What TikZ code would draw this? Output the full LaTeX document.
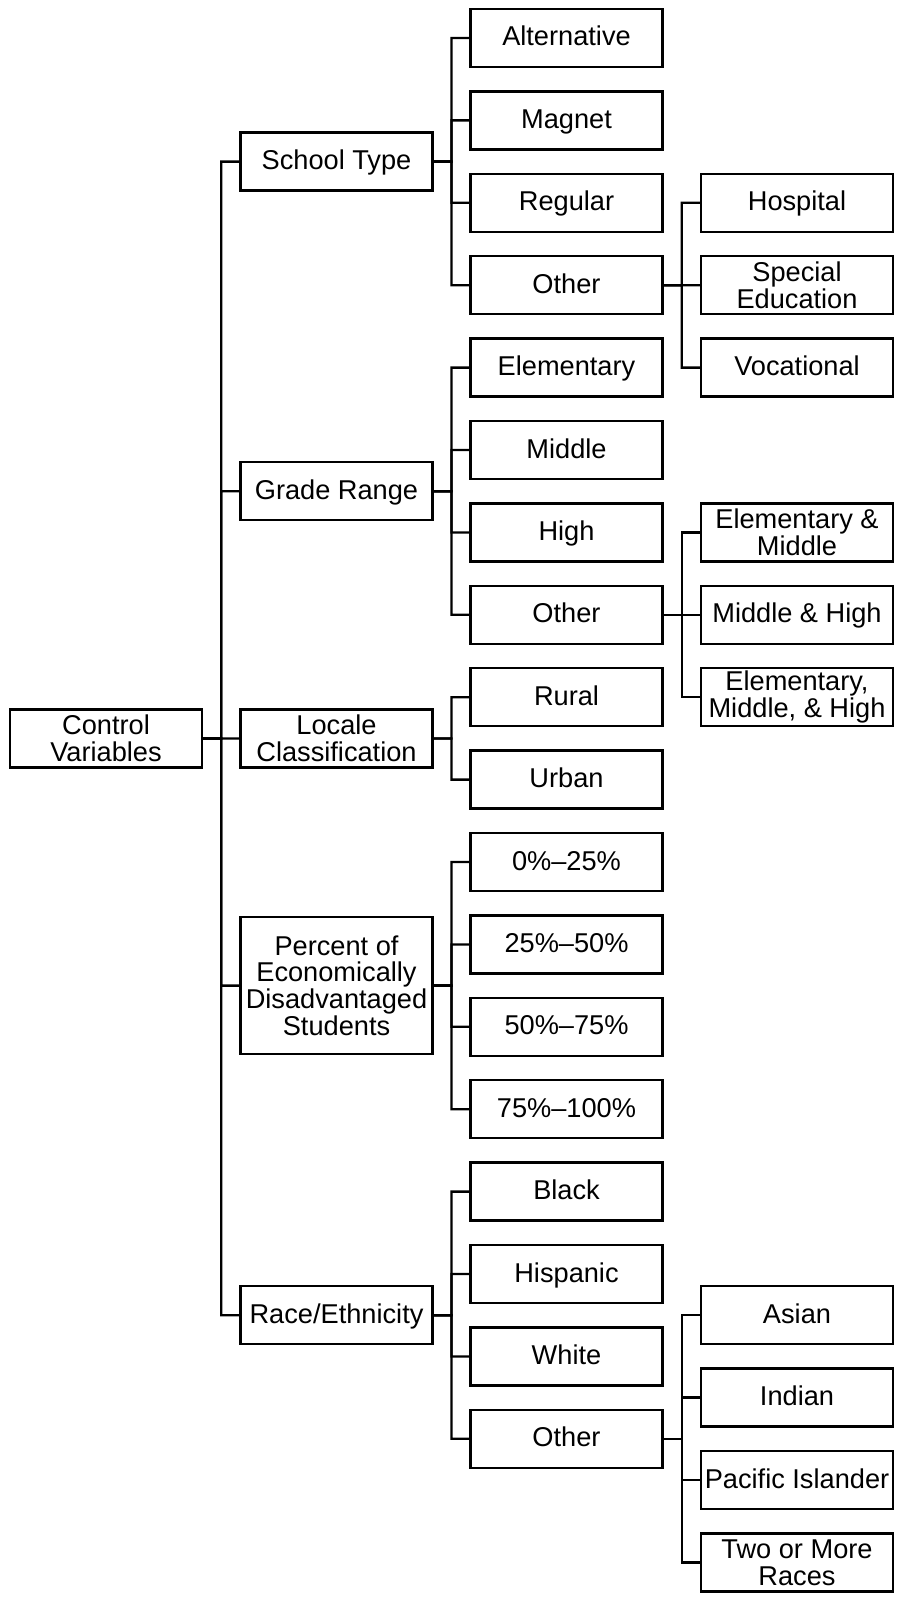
\documentclass[tikz,border=0pt]{standalone}
\usepackage{fontspec}
\setmainfont{Liberation Sans}
\usetikzlibrary{calc}
\begin{document}
\begin{tikzpicture}[x=0.5pt,y=-0.5pt,
  box/.style={draw=black,line width=1.15pt,minimum width=96pt,minimum height=29pt,inner sep=0pt,
    align=center,font=\fontsize{13.6}{13.4}\selectfont},
  one/.style={box,text height=9.74pt,text depth=1.74pt},
  tall/.style={box,minimum height=68.5pt},
  link/.style={draw=black,line width=1.15pt}]
\useasboundingbox (0,0) rectangle (899,1600);
% root
\node[box] (root) at (106,738.4) {Control\\Variables};
% level 1
\node[one] (st) at (336.5,161.6) {School Type};
\node[one] (gr) at (336.5,491.2) {Grade Range};
\node[box] (lc) at (336.5,738.4) {Locale\\Classification};
\node[tall] (pe) at (336.5,985.6) {Percent of\\Economically\\Disadvantaged\\Students};
\node[one] (re) at (336.5,1315.2) {Race/Ethnicity};
% level 2
\node[one] (alt) at (566.5,38) {Alternative};
\node[one] (mag) at (566.5,120.4) {Magnet};
\node[one] (reg) at (566.5,202.8) {Regular};
\node[one] (sto) at (566.5,285.2) {Other};
\node[one] (ele) at (566.5,367.6) {Elementary};
\node[one] (mid) at (566.5,450) {Middle};
\node[one] (hig) at (566.5,532.4) {High};
\node[one] (gro) at (566.5,614.8) {Other};
\node[one] (rur) at (566.5,697.2) {Rural};
\node[one] (urb) at (566.5,779.6) {Urban};
\node[one] (pa) at (566.5,862) {0\%–25\%};
\node[one] (pb) at (566.5,944.4) {25\%–50\%};
\node[one] (pc) at (566.5,1026.8) {50\%–75\%};
\node[one] (pd) at (566.5,1109.2) {75\%–100\%};
\node[one] (bla) at (566.5,1191.6) {Black};
\node[one] (his) at (566.5,1274) {Hispanic};
\node[one] (whi) at (566.5,1356.4) {White};
\node[one] (reo) at (566.5,1438.8) {Other};
% level 3
\node[one] (hos) at (797,202.8) {Hospital};
\node[box] (spe) at (797,285.2) {Special\\Education};
\node[one] (voc) at (797,367.6) {Vocational};
\node[box] (em) at (797,532.4) {Elementary \&\\Middle};
\node[one] (mh) at (797,614.8) {Middle \& High};
\node[box] (emh) at (797,697.2) {Elementary,\\Middle, \& High};
\node[one] (asi) at (797,1315.2) {Asian};
\node[one] (ind) at (797,1397.6) {Indian};
\node[one] (pac) at (797,1480) {Pacific Islander};
\node[box] (two) at (797,1562.4) {Two or More\\Races};
% connectors
\foreach \p/\c in {root/st,root/gr,root/lc,root/pe,root/re,
  st/alt,st/mag,st/reg,st/sto,gr/ele,gr/mid,gr/hig,gr/gro,
  lc/rur,lc/urb,pe/pa,pe/pb,pe/pc,pe/pd,re/bla,re/his,re/whi,re/reo,
  sto/hos,sto/spe,sto/voc,gro/em,gro/mh,gro/emh,
  reo/asi,reo/ind,reo/pac,reo/two}
  \draw[link] (\p.east) -- ($(\p.east)!0.5!(\c.west|-\p.east)$) |- (\c.west);
\end{tikzpicture}
\end{document}
